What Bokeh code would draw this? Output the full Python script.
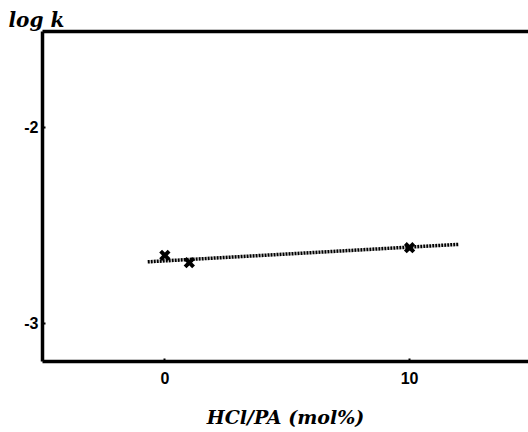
from bokeh.plotting import figure
from bokeh.models import LinearAxis, FixedTicker, Range1d, Title
from bokeh.embed import file_html
from bokeh.resources import INLINE

# data
hcl_pa = [0, 1, 10]
log_k = [-2.653, -2.690, -2.614]
fit_x = [-0.7, 12.0]
fit_y = [-2.686, -2.597]
x_ticks = [0, 10]
y_ticks = [-2, -3]
x_tick_labels = {0: "0", 10: "10"}
y_tick_labels = {-2: "-2", -3: "-3"}

p = figure(width=528, height=432, output_backend="svg", toolbar_location=None,
           x_range=Range1d(-5.0, 14.86), y_range=Range1d(-3.195, -1.51),
           min_border_left=42, min_border_right=0, min_border_top=31, min_border_bottom=71)
p.title = None
p.background_fill_color = "white"
p.border_fill_color = "white"
p.outline_line_color = None
p.grid.visible = False

p.line(fit_x, fit_y, line_color="black", line_width=3.5, line_dash="2 1")
p.scatter(hcl_pa, log_k, marker="x", size=12, line_color="black", line_width=4)

for ax in (p.xaxis[0], p.yaxis[0]):
    ax.axis_line_width = 3.5
    ax.axis_line_color = "black"
    ax.major_tick_in = 3
    ax.major_tick_out = 0
    ax.major_tick_line_width = 2
    ax.major_tick_line_color = "black"
    ax.minor_tick_line_color = None
    ax.major_label_text_font = "Liberation Sans"
    ax.major_label_text_font_style = "bold"
    ax.major_label_text_font_size = "16px"
    ax.major_label_text_color = "black"

p.xaxis[0].ticker = FixedTicker(ticks=x_ticks)
p.yaxis[0].ticker = FixedTicker(ticks=y_ticks)
p.xaxis[0].major_label_overrides = x_tick_labels
p.yaxis[0].major_label_overrides = y_tick_labels
p.xaxis[0].major_label_standoff = 10
p.yaxis[0].major_label_standoff = 4
p.xaxis[0].axis_label = "HCl/PA (mol%)"
p.xaxis[0].axis_label_text_font = "DejaVu Serif"
p.xaxis[0].axis_label_text_font_style = "bold italic"
p.xaxis[0].axis_label_text_font_size = "19px"
p.xaxis[0].axis_label_text_color = "black"
p.xaxis[0].axis_label_standoff = 19

top = LinearAxis(ticker=FixedTicker(ticks=[]), axis_line_width=3.5, axis_line_color="black",
                 major_tick_in=0, major_tick_out=0, minor_tick_in=0, minor_tick_out=0,
                 major_label_text_font_size="0px")
p.add_layout(top, "above")

ttl = Title(text="log k", align="left", offset=-34, standoff=0,
            text_font="DejaVu Serif", text_font_style="bold italic",
            text_font_size="20px", text_color="black")
p.add_layout(ttl, "above")

open("out.html", "w").write(file_html(p, INLINE))
